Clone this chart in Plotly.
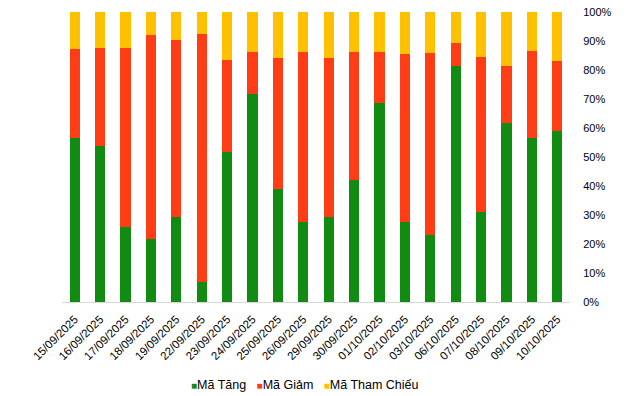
import plotly.graph_objects as go

dates = ["15/09/2025", "16/09/2025", "17/09/2025", "18/09/2025", "19/09/2025",
         "22/09/2025", "23/09/2025", "24/09/2025", "25/09/2025", "26/09/2025",
         "29/09/2025", "30/09/2025", "01/10/2025", "02/10/2025", "03/10/2025",
         "06/10/2025", "07/10/2025", "08/10/2025", "09/10/2025", "10/10/2025"]

ma_tang = [56.6, 53.9, 25.9, 21.7, 29.3, 6.9, 51.7, 71.7, 39.0, 27.7,
           29.3, 42.1, 68.6, 27.7, 23.1, 81.4, 31.0, 61.7, 56.6, 59.0]
ma_giam = [30.6, 33.7, 61.7, 70.5, 61.0, 85.6, 31.7, 14.5, 45.1, 58.5,
           54.8, 44.1, 17.6, 57.8, 62.8, 7.9, 53.5, 19.7, 30.0, 24.1]
ma_tham_chieu = [12.8, 12.4, 12.4, 7.8, 9.7, 7.5, 16.6, 13.8, 15.9, 13.8,
                 15.9, 13.8, 13.8, 14.5, 14.1, 10.7, 15.5, 18.6, 13.4, 16.9]

y_ticks = [0, 10, 20, 30, 40, 50, 60, 70, 80, 90, 100]
y_labels = ["0%", "10%", "20%", "30%", "40%", "50%", "60%", "70%", "80%", "90%", "100%"]

series_names = ["Mã Tăng", "Mã Giảm", "Mã Tham Chiếu"]
series_colors = ["#118B11", "#FF3D14", "#FFC000"]

fig = go.Figure()
for name, vals, col in zip(series_names, [ma_tang, ma_giam, ma_tham_chieu], series_colors):
    fig.add_bar(x=dates, y=vals, name=name, marker_color=col, marker_line_width=0)

legend_text = "   ".join(
    f"<span style='color:{c};font-size:10px'>■</span>{n}" for n, c in zip(series_names, series_colors)
)

fig.update_layout(
    barmode="stack",
    bargap=0.6,
    width=640, height=396,
    margin=dict(l=62, r=70, t=12, b=94, autoexpand=False),
    paper_bgcolor="white", plot_bgcolor="white",
    font=dict(family="Liberation Sans, Arial, sans-serif", size=12, color="#000000"),
    showlegend=False,
    xaxis=dict(type="category", tickangle=-45, showgrid=False, automargin=False,
               showline=True, linecolor="#D9D9D9", linewidth=1,
               ticks="outside", ticklen=5, tickcolor="rgba(0,0,0,0)",
               tickfont=dict(size=11.5, color="#000000")),
    yaxis=dict(side="right", range=[0, 100], tickvals=y_ticks, ticktext=y_labels,
               showgrid=False, zeroline=False, automargin=False,
               ticklabeloverflow="allow",
               showline=False, ticks="outside", ticklen=10, tickcolor="rgba(0,0,0,0)",
               tickfont=dict(size=11, color="#000000")),
    annotations=[dict(text=legend_text, xref="paper", yref="paper",
                      x=0.478, y=-0.286, xanchor="center", yanchor="middle",
                      showarrow=False, font=dict(size=12.5, color="#000000"))],
)

fig.write_html("out.html", config={"displayModeBar": False},
               post_script="document.body.style.margin='0';")
